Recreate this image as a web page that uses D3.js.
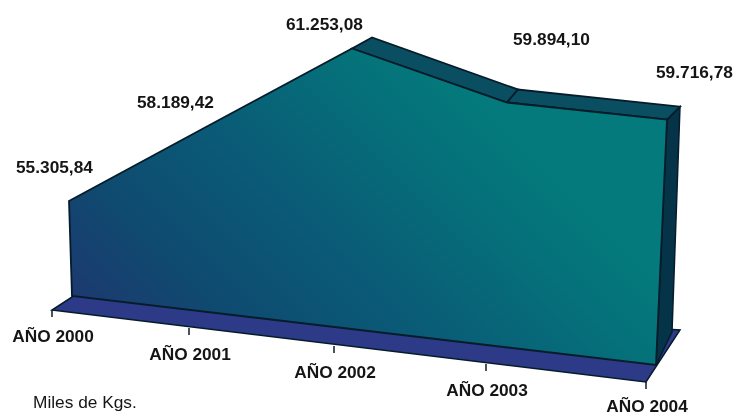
<!DOCTYPE html>
<html><head><meta charset="utf-8">
<script src="https://cdn.jsdelivr.net/npm/d3@7"></script>
<style>html,body{margin:0;background:#fff}svg{display:block;filter:blur(.45px)}text{font-family:"Liberation Sans",Arial,sans-serif;fill:#151515}</style>
</head><body><svg width="750" height="416"></svg>
<script>
const categories = ["AÑO 2000","AÑO 2001","AÑO 2002","AÑO 2003","AÑO 2004"];
const values = [55305.84,58189.42,61253.08,59894.10,59716.78];
const valueLabels = ["55.305,84","58.189,42","61.253,08","59.894,10","59.716,78"];
const unitLabel = "Miles de Kgs.";

const W=750,H=416;
const svg=d3.select("svg");
const idx=categories.map((_,i)=>i);
// Perspective axis: front floor edge
const tickX=d3.scaleLinear().domain(idx).range([52,189,334,486,646]);
const tickY=d3.scaleLinear().domain([0,4]).range([310,382]);
// Wall base and wall top horizontal mapping
const baseX=d3.scaleLinear().domain([0,4]).range([72,656]);
const baseY=d3.scaleLinear().domain([0,4]).range([296,365]);
const topX=d3.scaleLinear().domain(idx).range([69,205,352,507,667]);
const hScale=d3.scaleLinear().domain([55305.84,61253.08]).range([95,282]);
const persp=d3.scaleLinear().domain([0,2,4]).range([1,1,1.05]);
const front=i=>[topX(i),baseY(i)-hScale(values[i])*persp(i)];
const depthX=d3.scaleLinear().domain([2,3,4]).range([20,11,13]);
const depthY=d3.scaleLinear().domain([2,3,4]).range([11,13,13]);
const back=i=>{const p=front(i);return [p[0]+depthX(i),p[1]-depthY(i)];};
const line=d3.line();
const dark="#061c2a";

const defs=svg.append("defs");
const g=defs.append("linearGradient").attr("id","wall").attr("gradientUnits","userSpaceOnUse")
  .attr("x1",80).attr("y1",300).attr("x2",380).attr("y2",0);
g.selectAll("stop").data([[0,"#1c3a70"],[.22,"#0f4a70"],[.5,"#0a5a76"],[.85,"#05727a"],[1,"#047a7c"]]).join("stop")
  .attr("offset",d=>d[0]).attr("stop-color",d=>d[1]);
defs.append("clipPath").attr("id","page").append("rect").attr("width",733).attr("height",H);

// Floor
const floorPts=[[tickX(0),tickY(0)],[tickX(4),tickY(4)],[680,330],[75,295]];
svg.append("path").attr("d",line(floorPts)+"Z").attr("fill","#2c3a88").attr("stroke",dark).attr("stroke-width",1.5);

// Ticks
svg.selectAll(".tick").data(idx).join("line").attr("class","tick")
  .attr("x1",tickX).attr("x2",tickX).attr("y1",tickY).attr("y2",i=>tickY(i)+7)
  .attr("stroke",dark).attr("stroke-width",1.5);

// Side
const last=4;
svg.append("path").attr("d",line([front(last),back(last),[672,332],[baseX(last),baseY(last)]])+"Z")
  .attr("fill","#053348").attr("stroke",dark).attr("stroke-width",1.5);

// Top bands
idx.slice(2,4).forEach(i=>{
  svg.append("path").attr("d",line([front(i),back(i),back(i+1),front(i+1)])+"Z")
    .attr("fill","#0a4e62").attr("stroke",dark).attr("stroke-width",1.8);
});

// Wall
const wall=[...idx.map(front),[baseX(4),baseY(4)],[baseX(0),baseY(0)]];
svg.append("path").attr("d",line(wall)+"Z").attr("fill","url(#wall)").attr("stroke",dark).attr("stroke-width",1.8);

// Labels
const labelDX=[-53,-68,-66,6,-11], labelDY=[-28,-20,-19,-57,-42];
svg.selectAll(".val").data(idx).join("text").attr("class","val")
  .attr("clip-path","url(#page)")
  .attr("x",i=>front(i)[0]+labelDX[i]).attr("y",i=>front(i)[1]+labelDY[i])
  .attr("font-weight","bold").attr("font-size",17.3).text(i=>valueLabels[i]);
svg.selectAll(".cat").data(idx).join("text").attr("class","cat")
  .attr("x",i=>tickX(i)+1).attr("y",i=>Math.min(tickY(i)+32,412)).attr("text-anchor","middle")
  .attr("font-weight","bold").attr("font-size",17.3).text(i=>categories[i]);
svg.append("text").attr("x",33).attr("y",408).attr("font-size",17.3).text(unitLabel);
</script></body></html>
